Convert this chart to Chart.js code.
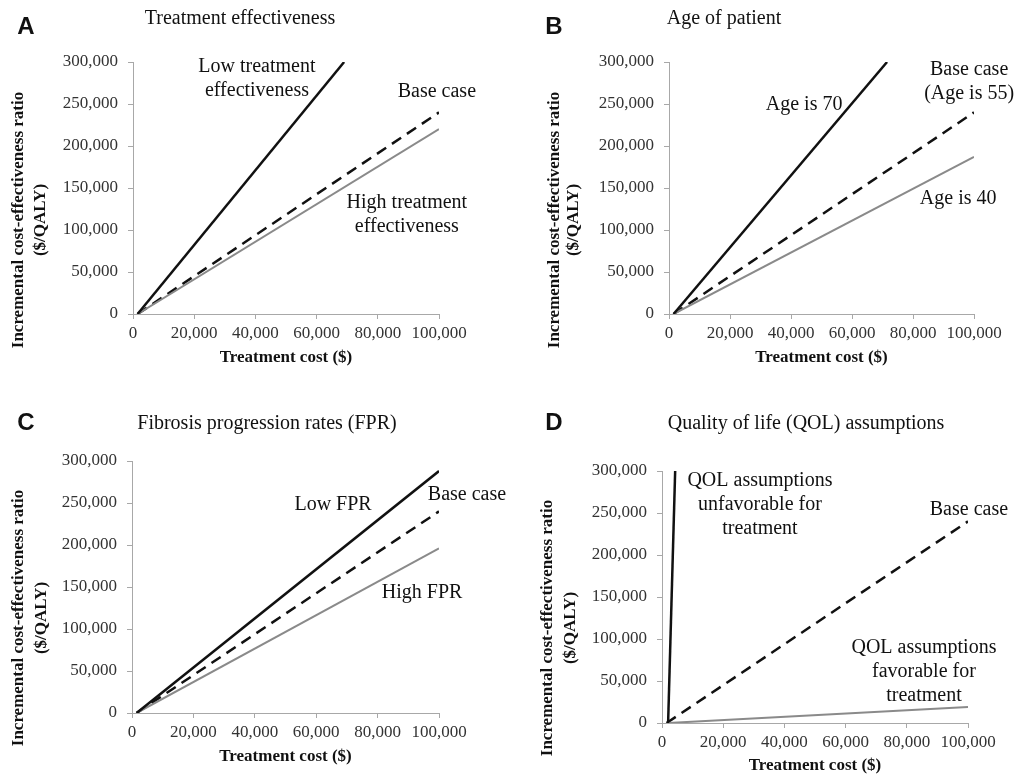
<!DOCTYPE html>
<html>
<head>
<meta charset="utf-8">
<script src="https://cdn.jsdelivr.net/npm/chart.js@4.4.0/dist/chart.umd.min.js"></script>
<style>
  html, body { margin: 0; padding: 0; background: #fff; }
  #wrap { position: relative; width: 1022px; height: 777px; overflow: hidden; }
  .panel { position: absolute; width: 511px; height: 388px; }
</style>
</head>
<body>
<div id="wrap">
  <div class="panel" style="left:0;top:0"><canvas id="cA" width="511" height="388"></canvas></div>
  <div class="panel" style="left:511px;top:0"><canvas id="cB" width="511" height="388"></canvas></div>
  <div class="panel" style="left:0;top:388px"><canvas id="cC" width="511" height="388"></canvas></div>
  <div class="panel" style="left:511px;top:388px"><canvas id="cD" width="511" height="388"></canvas></div>
</div>
<script>
/* ---------- data (treatment cost -> ICER, two end points per line) ---------- */
const xTickValues = [0, 20000, 40000, 60000, 80000, 100000];
const yTickValues = [0, 50000, 100000, 150000, 200000, 250000, 300000];

const baseX = [1500, 100000],  baseY = [0, 240000];

const lowEffX = [1500, 69000],  lowEffY = [0, 300000];
const highEffX = [1500, 100000], highEffY = [0, 220000];

const age70X = [1500, 71500],  age70Y = [0, 300000];
const age40X = [1500, 100000], age40Y = [0, 187000];

const lowFprX = [1500, 100000],  lowFprY = [0, 288000];
const highFprX = [1500, 100000], highFprY = [0, 196000];

const qolUnfavX = [2000, 4300],  qolUnfavY = [0, 300000];
const qolFavX = [2000, 100000],  qolFavY = [0, 19000];

/* ---------- styles ---------- */
const SERIF = "'Liberation Serif', 'Times New Roman', serif";
const SANS = "'Liberation Sans', Arial, sans-serif";
const AXIS_GREY = "#a8a8a8";

const lineStyles = {
  solid: { borderColor: "#111", borderWidth: 2.5 },
  dash:  { borderColor: "#111", borderWidth: 2.5, borderDash: [11, 7] },
  grey:  { borderColor: "#8a8a8a", borderWidth: 2 }
};

const pts = (xs, ys) => xs.map((v, i) => ({ x: v, y: ys[i] }));

/* text that the library has no slot for: panel letter, heading, axis titles, line labels */
const panelText = {
  id: "panelText",
  afterDraw(chart, args, o) {
    const ctx = chart.ctx;
    const { x, y } = chart.scales;
    const ca = chart.chartArea;
    ctx.save();
    ctx.textAlign = "center";
    ctx.textBaseline = "middle";
    ctx.fillStyle = "#111";

    ctx.font = "bold 24px " + SANS;
    ctx.fillText(o.letter, o.letterPos[0], o.letterPos[1]);

    ctx.font = "20px " + SERIF;
    ctx.fillText(o.heading, o.headingPos[0], o.headingPos[1]);

    ctx.font = "bold 17px " + SERIF;
    ctx.fillText("Treatment cost ($)", (ca.left + ca.right) / 2, o.xTitleY);

    const yLines = ["Incremental cost-effectiveness ratio", "($/QALY)"];
    yLines.forEach((t, i) => {
      ctx.save();
      ctx.translate(o.yTitleX[i], o.yTitleY);
      ctx.rotate(-Math.PI / 2);
      ctx.fillText(t, 0, 0);
      ctx.restore();
    });

    ctx.font = "20px " + SERIF;
    o.labels.forEach(l => {
      const px = x.getPixelForValue(l.at[0]);
      const py = y.getPixelForValue(l.at[1]);
      l.text.forEach((t, i) => ctx.fillText(t, px, py + i * 24));
    });
    ctx.restore();
  }
};

function makePanel(id, box, series, text) {
  new Chart(document.getElementById(id), {
    type: "scatter",
    data: {
      datasets: series.map(s => Object.assign({
        data: pts(s.x, s.y),
        showLine: true,
        pointRadius: 0,
        pointHoverRadius: 0,
        fill: false
      }, lineStyles[s.style]))
    },
    options: {
      responsive: false,
      animation: false,
      devicePixelRatio: 1,
      layout: { padding: { left: 0, top: box.top, right: box.right, bottom: 0 } },
      plugins: { legend: { display: false }, tooltip: { enabled: false }, panelText: text },
      scales: {
        x: {
          type: "linear",
          min: 0, max: 100000,
          afterBuildTicks: s => { s.ticks = xTickValues.map(v => ({ value: v })); },
          afterFit: s => { s.height = box.below; },
          ticks: {
            padding: 4,
            color: "#333",
            autoSkip: false,
            maxRotation: 0,
            minRotation: 0,
            font: { family: SERIF, size: 17 },
            callback: v => v.toLocaleString("en-US")
          },
          grid: { drawOnChartArea: false, tickLength: 5, color: AXIS_GREY },
          border: { color: AXIS_GREY, width: 1 }
        },
        y: {
          type: "linear",
          min: 0, max: 300000,
          afterBuildTicks: s => { s.ticks = yTickValues.map(v => ({ value: v })); },
          afterFit: s => { s.width = box.left; },
          ticks: {
            padding: 10,
            color: "#333",
            autoSkip: false,
            font: { family: SERIF, size: 17 },
            callback: v => v.toLocaleString("en-US")
          },
          grid: { drawOnChartArea: false, tickLength: 5, color: AXIS_GREY },
          border: { color: AXIS_GREY, width: 1 }
        }
      }
    },
    plugins: [panelText]
  });
}

/* A – treatment effectiveness */
makePanel("cA", { left: 133, right: 72, top: 62, below: 74 }, [
  { x: lowEffX, y: lowEffY, style: "solid" },
  { x: highEffX, y: highEffY, style: "grey" },
  { x: baseX, y: baseY, style: "dash" }
], {
  letter: "A", letterPos: [26, 27],
  heading: "Treatment effectiveness", headingPos: [240, 19],
  xTitleY: 358, yTitleX: [19, 41], yTitleY: 220,
  labels: [
    { text: ["Low treatment", "effectiveness"], at: [40500, 294000] },
    { text: ["Base case"], at: [99300, 264000] },
    { text: ["High treatment", "effectiveness"], at: [89500, 132000] }
  ]
});

/* B – age of patient */
makePanel("cB", { left: 158, right: 48, top: 62, below: 74 }, [
  { x: age70X, y: age70Y, style: "solid" },
  { x: age40X, y: age40Y, style: "grey" },
  { x: baseX, y: baseY, style: "dash" }
], {
  letter: "B", letterPos: [43, 27],
  heading: "Age of patient", headingPos: [213, 19],
  xTitleY: 358, yTitleX: [44, 63], yTitleY: 220,
  labels: [
    { text: ["Age is 70"], at: [44300, 249000] },
    { text: ["Base case", "(Age is 55)"], at: [98400, 290500] },
    { text: ["Age is 40"], at: [94800, 137000] }
  ]
});

/* C – fibrosis progression rates */
makePanel("cC", { left: 132, right: 72, top: 73, below: 63 }, [
  { x: lowFprX, y: lowFprY, style: "solid" },
  { x: highFprX, y: highFprY, style: "grey" },
  { x: baseX, y: baseY, style: "dash" }
], {
  letter: "C", letterPos: [26, 35],
  heading: "Fibrosis progression rates (FPR)", headingPos: [267, 36],
  xTitleY: 369, yTitleX: [19, 42], yTitleY: 230,
  labels: [
    { text: ["Low FPR"], at: [65500, 247600] },
    { text: ["Base case"], at: [109100, 259500] },
    { text: ["High FPR"], at: [94500, 143000] }
  ]
});

/* D – quality of life assumptions */
makePanel("cD", { left: 151, right: 54, top: 83, below: 53 }, [
  { x: qolUnfavX, y: qolUnfavY, style: "solid" },
  { x: qolFavX, y: qolFavY, style: "grey" },
  { x: baseX, y: baseY, style: "dash" }
], {
  letter: "D", letterPos: [43, 35],
  heading: "Quality of life (QOL) assumptions", headingPos: [295, 36],
  xTitleY: 378, yTitleX: [37, 60], yTitleY: 240,
  labels: [
    { text: ["QOL assumptions", "unfavorable for", "treatment"], at: [32000, 288000] },
    { text: ["Base case"], at: [100300, 253600] },
    { text: ["QOL assumptions", "favorable for", "treatment"], at: [85600, 89300] }
  ]
});
</script>
</body>
</html>
